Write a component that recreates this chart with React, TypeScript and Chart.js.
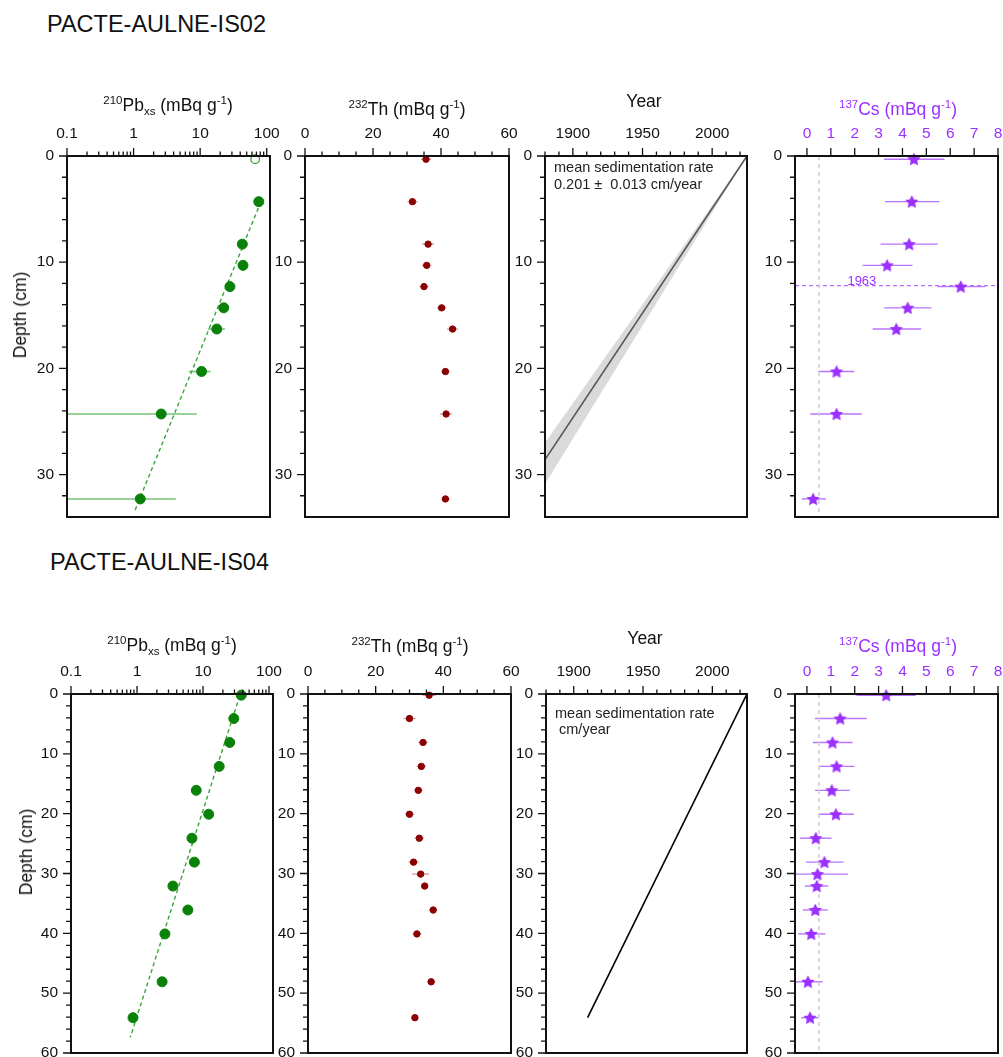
import React, { useEffect, useRef } from "react";
import { Chart, registerables } from "chart.js";

Chart.register(...registerables);

const FONT = '"Liberation Sans", Arial, Helvetica, sans-serif';

// ================= PACTE-AULNE-IS02 =================
const is02PbDepth = [4.3, 8.3, 10.3, 12.3, 14.3, 16.3, 20.3, 24.3, 32.3];
const is02PbValue = [76, 43, 44, 28, 22.6, 17.8, 10.5, 2.6, 1.26];
const is02PbLow = [72, 40, 41, 26, 19, 13, 6.7, 0.08, 0.08];
const is02PbHigh = [80, 46, 47, 30, 26.5, 23.7, 14.5, 8.9, 4.3];
const is02PbSurfaceDepth = [0.3];
const is02PbSurfaceValue = [67];
const is02PbFitDepth = [4.3, 33.5];
const is02PbFitValue = [82, 1.03];

const is02ThDepth = [0.3, 4.3, 8.3, 10.3, 12.3, 14.3, 16.3, 20.3, 24.3, 32.3];
const is02ThValue = [35.6, 31.6, 36.2, 35.8, 35.0, 40.2, 43.4, 41.3, 41.5, 41.3];
const is02ThError = [1.5, 1.5, 1.8, 1.4, 1.3, 1.4, 1.6, 1.2, 1.8, 1.2];

const is02AgeYear = [2025, 1880];
const is02AgeDepth = [0, 28.6];
const is02AgeDepthMin = [0, 27.0];
const is02AgeDepthMax = [0, 30.9];
const is02RateText = ["mean sedimentation rate", "0.201 \u00b1  0.013 cm/year"];

const is02CsDepth = [0.3, 4.3, 8.3, 10.3, 12.3, 14.3, 16.3, 20.3, 24.3, 32.3];
const is02CsValue = [4.48, 4.39, 4.28, 3.36, 6.44, 4.22, 3.74, 1.24, 1.24, 0.26];
const is02CsLow = [3.23, 3.27, 3.08, 2.33, 5.47, 3.23, 2.75, 0.49, 0.14, -0.22];
const is02CsHigh = [5.76, 5.54, 5.48, 4.42, 7.46, 5.21, 4.78, 1.98, 2.3, 0.8];
const is02Cs1963Depth = 12.2;

// ================= PACTE-AULNE-IS04 =================
const is04PbDepth = [0.2, 4.1, 8.1, 12.1, 16.1, 20.1, 24.1, 28.1, 32.1, 36.1, 40.1, 48.1, 54.1];
const is04PbValue = [38, 29.3, 25.4, 17.6, 7.9, 12.2, 6.8, 7.4, 3.5, 5.9, 2.65, 2.4, 0.87];
const is04PbFitDepth = [0.3, 57.4];
const is04PbFitValue = [36, 0.79];

const is04ThDepth = [0.2, 4.1, 8.1, 12.1, 16.1, 20.1, 24.1, 28.1, 30.1, 32.1, 36.1, 40.1, 48.1, 54.1];
const is04ThValue = [35.8, 30.0, 34.0, 33.5, 32.6, 30.0, 32.9, 31.2, 33.3, 34.5, 37.0, 32.2, 36.4, 31.6];
const is04ThError = [2.0, 1.8, 1.4, 1.4, 1.3, 1.4, 1.4, 1.5, 2.5, 1.0, 1.2, 1.3, 1.2, 1.0];

const is04AgeYear = [2025, 1910];
const is04AgeDepth = [0, 54.1];
const is04RateText = ["mean sedimentation rate", " cm/year"];

const is04CsDepth = [0.2, 4.1, 8.1, 12.1, 16.1, 20.1, 24.1, 28.1, 30.1, 32.1, 36.1, 40.1, 48.1, 54.1];
const is04CsValue = [3.32, 1.39, 1.07, 1.24, 1.04, 1.21, 0.37, 0.73, 0.44, 0.41, 0.35, 0.18, 0.04, 0.13];
const is04CsLow = [2.07, 0.34, 0.25, 0.49, 0.34, 0.49, -0.29, -0.05, -0.6, -0.09, -0.17, -0.36, -0.6, -0.24];
const is04CsHigh = [4.55, 2.5, 1.91, 1.99, 1.79, 1.96, 1.03, 1.53, 1.72, 0.9, 0.87, 0.77, 0.65, 0.5];

const csDetectionLimit = 0.5;

// ================= axis ticks =================
const pbTickLabels = [0.1, 1, 10, 100];
const pbMinorTicks = [0.2, 0.3, 0.4, 0.5, 0.6, 0.7, 0.8, 0.9, 2, 3, 4, 5, 6, 7, 8, 9, 20, 30, 40, 50, 60, 70, 80, 90];
const thTickLabels = [0, 20, 40, 60];
const thMinorTicks = [5, 10, 15, 25, 30, 35, 45, 50, 55];
const yearTickLabels = [1900, 1950, 2000];
const yearMinorTicks = [1880, 1890, 1910, 1920, 1930, 1940, 1960, 1970, 1980, 1990, 2010, 2020];
const csTickLabels = [0, 1, 2, 3, 4, 5, 6, 7, 8];
const depthTicksIS02 = [0, 10, 20, 30];
const depthMinorIS02 = [2, 4, 6, 8, 12, 14, 16, 18, 22, 24, 26, 28, 32];
const depthTicksIS04 = [0, 10, 20, 30, 40, 50, 60];
const depthMinorIS04 = [2, 4, 6, 8, 12, 14, 16, 18, 22, 24, 26, 28, 32, 34, 36, 38, 42, 44, 46, 48, 52, 54, 56, 58];

// ================= colours =================
const GREEN = "#0a820a";
const GREEN_ERR = "#74c274";
const GREEN_FIT = "#3aa63a";
const RED = "#8b0000";
const RED_ERR = "rgba(190,80,80,0.6)";
const PURPLE = "#9b30ff";
const PURPLE_ERR = "rgba(160,70,255,0.75)";
const INK = "#111";

const AX = 45;
const PR = 18;
const PB = 4;

type Txt = { text: string; mode: "area" | "data"; x: number; y: number; size: number; color: string; align: CanvasTextAlign; baseline: CanvasTextBaseline };

interface PanelSpec {
  key: string;
  frame: [number, number, number, number];
  xType: "linear" | "logarithmic";
  xMin: number;
  xMax: number;
  yMax: number;
  xLabels: number[];
  xMajor: number[];
  xMinor: number[];
  yLabels: number[];
  yMinor: number[];
  xTickColor: string;
  datasets: any[];
  texts: Txt[];
}

function pts(xs: number[], ys: number[]) {
  return xs.map((x, i) => ({ x, y: ys[i] }));
}

function markers(xs: number[], ys: number[], opts: any) {
  return { data: pts(xs, ys), showLine: false, clip: false, order: 0, ...opts };
}

function errorBars(depth: number[], low: number[], high: number[], color: string, width = 1.4) {
  return depth.map((d, i) => ({
    data: [{ x: low[i], y: d }, { x: high[i], y: d }],
    showLine: true,
    pointRadius: 0,
    borderColor: color,
    borderWidth: width,
    clip: 0,
    order: 2,
  }));
}

function line(xs: number[], ys: number[], color: string, width: number, dash: number[] = []) {
  return { type: "line", data: pts(xs, ys), showLine: true, pointRadius: 0, borderColor: color, borderWidth: width, borderDash: dash, clip: 0, order: 1, fill: false, tension: 0 };
}

let starCache: HTMLCanvasElement | null = null;
function starImage() {
  if (starCache) return starCache;
  const r = 7;
  const s = r * 2 + 2;
  const c = document.createElement("canvas");
  c.width = s;
  c.height = s;
  const g = c.getContext("2d")!;
  g.fillStyle = PURPLE;
  g.beginPath();
  for (let i = 0; i < 10; i++) {
    const a = -Math.PI / 2 + (i * Math.PI) / 5;
    const rr = i % 2 === 0 ? r : r * 0.5;
    g.lineTo(s / 2 + rr * Math.cos(a), s / 2 + 0.5 + rr * Math.sin(a));
  }
  g.closePath();
  g.fill();
  starCache = c;
  return c;
}

function rateTexts(lines: string[], dys: number[]): Txt[] {
  return lines.map((t, i) => ({ text: t, mode: "area", x: 9, y: dys[i], size: 14.5, color: "#222", align: "left", baseline: "middle" }));
}

function buildPanels(): PanelSpec[] {
  const star = starImage();
  const pbMarker = { pointRadius: 5, pointBackgroundColor: GREEN, pointBorderColor: GREEN, pointBorderWidth: 1 };
  const thMarker = { pointRadius: 3.2, pointBackgroundColor: RED, pointBorderColor: RED, pointBorderWidth: 1 };
  const csMarker = { pointStyle: star, pointRadius: 7 };

  const thLow = (v: number[], e: number[]) => v.map((x, i) => x - e[i]);
  const thHigh = (v: number[], e: number[]) => v.map((x, i) => x + e[i]);

  return [
    // ---------- IS02 ----------
    {
      key: "is02pb", frame: [67, 156, 270, 517], xType: "logarithmic", xMin: 0.1, xMax: 112, yMax: 34,
      xLabels: pbTickLabels, xMajor: pbTickLabels, xMinor: pbMinorTicks, yLabels: depthTicksIS02, yMinor: depthMinorIS02, xTickColor: INK,
      datasets: [
        markers(is02PbValue, is02PbDepth, pbMarker),
        markers(is02PbSurfaceValue, is02PbSurfaceDepth, { pointRadius: 4.3, pointBackgroundColor: "#fff", pointBorderColor: GREEN_FIT, pointBorderWidth: 1.3 }),
        line(is02PbFitValue, is02PbFitDepth, GREEN_FIT, 1.4, [4, 3]),
        ...errorBars(is02PbDepth, is02PbLow, is02PbHigh, GREEN_ERR),
      ],
      texts: [],
    },
    {
      key: "is02th", frame: [305, 156, 509, 517], xType: "linear", xMin: 0, xMax: 60, yMax: 34,
      xLabels: thTickLabels, xMajor: thTickLabels, xMinor: thMinorTicks, yLabels: depthTicksIS02, yMinor: depthMinorIS02, xTickColor: INK,
      datasets: [
        markers(is02ThValue, is02ThDepth, thMarker),
        ...errorBars(is02ThDepth, thLow(is02ThValue, is02ThError), thHigh(is02ThValue, is02ThError), RED_ERR, 1.3),
      ],
      texts: [],
    },
    {
      key: "is02age", frame: [545, 156, 747, 517], xType: "linear", xMin: 1880, xMax: 2025, yMax: 34,
      xLabels: yearTickLabels, xMajor: yearTickLabels, xMinor: yearMinorTicks, yLabels: depthTicksIS02, yMinor: depthMinorIS02, xTickColor: INK,
      datasets: [
        line(is02AgeYear, is02AgeDepth, "#555", 1.6),
        { ...line(is02AgeYear, is02AgeDepthMin, "rgba(0,0,0,0)", 0), order: 3 },
        { ...line(is02AgeYear, is02AgeDepthMax, "rgba(0,0,0,0)", 0), order: 3, fill: "-1", backgroundColor: "rgba(205,205,205,0.75)" },
      ],
      texts: rateTexts(is02RateText, [11.5, 29]),
    },
    {
      key: "is02cs", frame: [795, 156, 998, 517], xType: "linear", xMin: -0.5, xMax: 8, yMax: 34,
      xLabels: csTickLabels, xMajor: csTickLabels, xMinor: [], yLabels: depthTicksIS02, yMinor: depthMinorIS02, xTickColor: PURPLE,
      datasets: [
        markers(is02CsValue, is02CsDepth, csMarker),
        line([csDetectionLimit, csDetectionLimit], [0, 34], "#cfcfcf", 1.5, [4, 4]),
        line([-0.5, 8], [is02Cs1963Depth, is02Cs1963Depth], "#b46cff", 1.3, [4, 3]),
        ...errorBars(is02CsDepth, is02CsLow, is02CsHigh, PURPLE_ERR),
      ],
      texts: [{ text: "1963", mode: "data", x: 2.3, y: is02Cs1963Depth, size: 13, color: PURPLE, align: "center", baseline: "alphabetic" }],
    },
    // ---------- IS04 ----------
    {
      key: "is04pb", frame: [71, 694, 273, 1053], xType: "logarithmic", xMin: 0.1, xMax: 115, yMax: 60,
      xLabels: pbTickLabels, xMajor: pbTickLabels, xMinor: pbMinorTicks, yLabels: depthTicksIS04, yMinor: depthMinorIS04, xTickColor: INK,
      datasets: [
        markers(is04PbValue, is04PbDepth, pbMarker),
        line(is04PbFitValue, is04PbFitDepth, GREEN_FIT, 1.4, [4, 3]),
      ],
      texts: [],
    },
    {
      key: "is04th", frame: [308, 694, 511, 1053], xType: "linear", xMin: 0, xMax: 60, yMax: 60,
      xLabels: thTickLabels, xMajor: thTickLabels, xMinor: thMinorTicks, yLabels: depthTicksIS04, yMinor: depthMinorIS04, xTickColor: INK,
      datasets: [
        markers(is04ThValue, is04ThDepth, thMarker),
        ...errorBars(is04ThDepth, thLow(is04ThValue, is04ThError), thHigh(is04ThValue, is04ThError), RED_ERR, 1.3),
      ],
      texts: [],
    },
    {
      key: "is04age", frame: [546, 694, 747, 1053], xType: "linear", xMin: 1880, xMax: 2025, yMax: 60,
      xLabels: yearTickLabels, xMajor: yearTickLabels, xMinor: yearMinorTicks, yLabels: depthTicksIS04, yMinor: depthMinorIS04, xTickColor: INK,
      datasets: [line(is04AgeYear, is04AgeDepth, "#000", 1.6)],
      texts: rateTexts(is04RateText, [19.5, 36]),
    },
    {
      key: "is04cs", frame: [795, 694, 998, 1053], xType: "linear", xMin: -0.5, xMax: 8, yMax: 60,
      xLabels: csTickLabels, xMajor: csTickLabels, xMinor: [], yLabels: depthTicksIS04, yMinor: depthMinorIS04, xTickColor: PURPLE,
      datasets: [
        markers(is04CsValue, is04CsDepth, csMarker),
        line([csDetectionLimit, csDetectionLimit], [0, 60], "#cfcfcf", 1.5, [4, 4]),
        ...errorBars(is04CsDepth, is04CsLow, is04CsHigh, PURPLE_ERR),
      ],
      texts: [],
    },
  ];
}

function makeFramePlugin(p: PanelSpec) {
  return {
    id: "frameTicks",
    afterDraw(chart: any) {
      const { ctx, chartArea: a, scales } = chart;
      const xs = scales.x;
      const ys = scales.y;
      ctx.save();
      ctx.strokeStyle = INK;
      ctx.lineWidth = 1.3;
      ctx.beginPath();
      const xt = (v: number, len: number) => {
        const px = xs.getPixelForValue(v);
        ctx.moveTo(px, a.top);
        ctx.lineTo(px, a.top - len);
      };
      const yt = (v: number, len: number) => {
        const py = ys.getPixelForValue(v);
        ctx.moveTo(a.left, py);
        ctx.lineTo(a.left - len, py);
      };
      p.xMajor.forEach((v) => xt(v, 8));
      p.xMinor.forEach((v) => xt(v, 4.5));
      p.yLabels.forEach((v) => yt(v, 8));
      p.yMinor.forEach((v) => yt(v, 5));
      ctx.stroke();
      ctx.lineWidth = 2;
      ctx.strokeRect(a.left, a.top, a.right - a.left, a.bottom - a.top);
      for (const t of p.texts) {
        ctx.font = `${t.size}px ${FONT}`;
        ctx.fillStyle = t.color;
        ctx.textAlign = t.align;
        ctx.textBaseline = t.baseline;
        let x: number, y: number;
        if (t.mode === "area") {
          x = a.left + t.x;
          y = a.top + t.y;
        } else {
          x = xs.getPixelForValue(t.x);
          y = ys.getPixelForValue(t.y) - 1;
        }
        ctx.fillText(t.text, x, y);
      }
      ctx.restore();
    },
  };
}

function buildConfig(p: PanelSpec): any {
  const tickFont = { family: FONT, size: 15.5 };
  return {
    type: "scatter",
    data: { datasets: p.datasets },
    options: {
      responsive: false,
      maintainAspectRatio: false,
      animation: false,
      devicePixelRatio: 1,
      events: [],
      layout: { padding: { left: 0, top: 0, right: PR, bottom: PB }, autoPadding: false },
      plugins: { legend: { display: false }, tooltip: { enabled: false } },
      scales: {
        x: {
          type: p.xType,
          position: "top",
          min: p.xMin,
          max: p.xMax,
          grid: { display: false, drawTicks: false },
          border: { display: false },
          ticks: {
            autoSkip: false,
            maxRotation: 0,
            minRotation: 0,
            padding: 13,
            color: p.xTickColor,
            font: tickFont,
            callback: (v: any) => String(v),
          },
          afterBuildTicks: (s: any) => {
            s.ticks = p.xLabels.map((v) => ({ value: v }));
          },
          afterFit: (s: any) => {
            s.height = AX;
            s.paddingLeft = 0;
            s.paddingRight = 0;
          },
        },
        y: {
          type: "linear",
          position: "left",
          reverse: true,
          min: 0,
          max: p.yMax,
          grid: { display: false, drawTicks: false },
          border: { display: false },
          ticks: {
            autoSkip: false,
            padding: 13,
            color: INK,
            font: tickFont,
            callback: (v: any) => String(v),
          },
          afterBuildTicks: (s: any) => {
            s.ticks = p.yLabels.map((v) => ({ value: v }));
          },
          afterFit: (s: any) => {
            s.width = AX;
            s.paddingTop = 0;
            s.paddingBottom = 0;
          },
        },
      },
    },
    plugins: [makeFramePlugin(p)],
  };
}

function Panel({ spec }: { spec: PanelSpec }) {
  const ref = useRef<HTMLCanvasElement>(null);
  const [L, T, R, B] = spec.frame;
  const left = L - AX;
  const top = T - AX;
  const w = R - L + AX + PR;
  const h = B - T + AX + PB;
  useEffect(() => {
    const chart = new Chart(ref.current!, buildConfig(spec));
    return () => chart.destroy();
  }, []);
  return <canvas ref={ref} width={w} height={h} style={{ position: "absolute", left, top, width: w, height: h }} />;
}

const supStyle: React.CSSProperties = { fontSize: 11.5, position: "relative", top: -7 };
const subStyle: React.CSSProperties = { fontSize: 11.5, position: "relative", top: 4 };

function AxisTitle({ x, y, color = "#111", children, vertical = false }: any) {
  return (
    <div
      style={{
        position: "absolute",
        left: x,
        top: y,
        transform: vertical ? "translate(-50%,-50%) rotate(-90deg)" : "translate(-50%,-50%)",
        font: `17.5px ${FONT}`,
        color,
        whiteSpace: "nowrap",
        lineHeight: "20px",
      }}
    >
      {children}
    </div>
  );
}

const PbTitle = () => (
  <>
    <span style={supStyle}>210</span>Pb<span style={subStyle}>xs</span> (mBq g<span style={supStyle}>-1</span>)
  </>
);
const ThTitle = () => (
  <>
    <span style={supStyle}>232</span>Th (mBq g<span style={supStyle}>-1</span>)
  </>
);
const CsTitle = () => (
  <>
    <span style={supStyle}>137</span>Cs (mBq g<span style={supStyle}>-1</span>)
  </>
);

export default function App() {
  const panels = buildPanels();
  useEffect(() => {
    document.body.style.margin = "0";
    document.body.style.overflow = "hidden";
  }, []);
  const header: React.CSSProperties = { position: "absolute", font: `23.5px ${FONT}`, color: "#111", whiteSpace: "nowrap", transform: "translateY(-50%)", lineHeight: "28px" };
  return (
    <div style={{ position: "absolute", left: 0, top: 0, width: 1003, height: 1057, overflow: "hidden", background: "#fff" }}>
      {panels.map((p) => (
        <Panel key={p.key} spec={p} />
      ))}
      <div style={{ ...header, left: 47, top: 24 }}>PACTE-AULNE-IS02</div>
      <div style={{ ...header, left: 50, top: 562 }}>PACTE-AULNE-IS04</div>

      <AxisTitle x={168} y={106}><PbTitle /></AxisTitle>
      <AxisTitle x={407} y={110}><ThTitle /></AxisTitle>
      <AxisTitle x={644} y={100.5}>Year</AxisTitle>
      <AxisTitle x={898} y={110} color={PURPLE}><CsTitle /></AxisTitle>
      <AxisTitle x={20} y={315} vertical>Depth (cm)</AxisTitle>

      <AxisTitle x={172} y={645.5}><PbTitle /></AxisTitle>
      <AxisTitle x={410} y={646.5}><ThTitle /></AxisTitle>
      <AxisTitle x={645} y={637.5}>Year</AxisTitle>
      <AxisTitle x={898} y={647} color={PURPLE}><CsTitle /></AxisTitle>
      <AxisTitle x={26} y={852} vertical>Depth (cm)</AxisTitle>
    </div>
  );
}
